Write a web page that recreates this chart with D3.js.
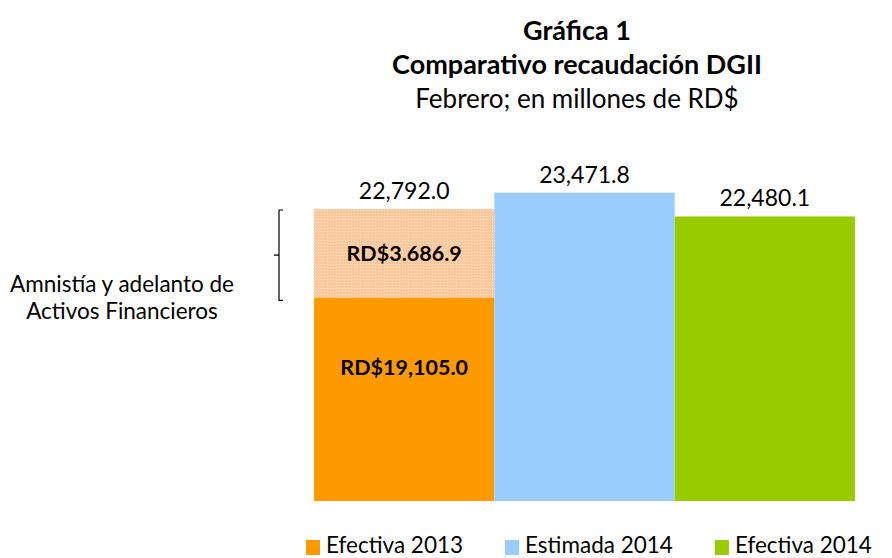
<!DOCTYPE html>
<html>
<head>
<meta charset="utf-8">
<script src="https://cdn.jsdelivr.net/npm/d3@7"></script>
<style>
  html, body { margin: 0; padding: 0; background: #fff; }
  svg { display: block; font-family: Lato, "Open Sans", sans-serif; }
</style>
</head>
<body>
<div id="vis"></div>
<script>
// Chart data
var categories = ['Efectiva 2013', 'Estimada 2014', 'Efectiva 2014'];
var baseValues = [19105.0, 23471.8, 22480.1];   // solid part of each bar
var extraValues = [3686.9, 0, 0];               // hatched part (amnesty)
var totalLabels = ['22,792.0', '23,471.8', '22,480.1'];
var baseLabels = ['RD$19,105.0', null, null];
var extraLabels = ['RD$3.686.9', null, null];
var colors = ['#ff9900', '#99ccff', '#99cc00'];
var titleLines = ['Gráfica 1', 'Comparativo recaudación DGII', 'Febrero; en millones de RD$'];
var noteLines = ['Amnistía y adelanto de', 'Activos Financieros'];

var width = 892;
var height = 558;
var plotBottom = 501;
var plotTop = 168;

var svg = d3.select('#vis').append('svg')
  .attr('width', width)
  .attr('height', height);

// hatched fill for the amnesty segment
var pat = svg.append('defs').append('pattern')
  .attr('id', 'dots')
  .attr('width', 3).attr('height', 3)
  .attr('patternUnits', 'userSpaceOnUse');
pat.append('rect').attr('width', 3).attr('height', 3).attr('fill', '#ffc79a');
pat.append('rect').attr('width', 1).attr('height', 1).attr('fill', '#fff1e4');

var x = d3.scaleBand()
  .domain(categories)
  .range([314, 855])
  .paddingInner(0);

// value axis does not start at zero (axis minimum like the original)
var y = d3.scaleLinear()
  .domain([10620, 24500])
  .range([plotBottom, plotTop]);

var rows = categories.map(function (c, i) {
  return { cat: c, base: baseValues[i], extra: extraValues[i], total: baseValues[i] + extraValues[i], color: colors[i], i: i };
});

// solid bars
svg.selectAll('.bar')
  .data(rows)
  .enter().append('rect')
  .attr('class', 'bar')
  .attr('x', function (d) { return x(d.cat); })
  .attr('width', x.bandwidth())
  .attr('y', function (d) { return y(d.base); })
  .attr('height', function (d) { return y.range()[0] - y(d.base); })
  .attr('fill', function (d) { return d.color; });

// hatched segments
svg.selectAll('.extra')
  .data(rows.filter(function (d) { return d.extra > 0; }))
  .enter().append('rect')
  .attr('class', 'extra')
  .attr('x', function (d) { return x(d.cat); })
  .attr('width', x.bandwidth())
  .attr('y', function (d) { return y(d.total); })
  .attr('height', function (d) { return y(d.base) - y(d.total); })
  .attr('fill', 'url(#dots)');

// total labels
svg.selectAll('.total')
  .data(rows)
  .enter().append('text')
  .attr('class', 'total')
  .attr('x', function (d) { return x(d.cat) + x.bandwidth() / 2; })
  .attr('y', function (d) { return y(d.total) - 10; })
  .attr('text-anchor', 'middle')
  .attr('font-size', 23)
  .attr('fill', '#000')
  .text(function (d) { return totalLabels[d.i]; });

// inner labels
svg.selectAll('.extraLabel')
  .data(rows.filter(function (d) { return extraLabels[d.i]; }))
  .enter().append('text')
  .attr('x', function (d) { return x(d.cat) + x.bandwidth() / 2; })
  .attr('y', function (d) { return (y(d.total) + y(d.base)) / 2 + 8; })
  .attr('text-anchor', 'middle')
  .attr('font-size', 21.5)
  .attr('font-weight', 'bold')
  .text(function (d) { return extraLabels[d.i]; });

svg.selectAll('.baseLabel')
  .data(rows.filter(function (d) { return baseLabels[d.i]; }))
  .enter().append('text')
  .attr('x', function (d) { return x(d.cat) + x.bandwidth() / 2; })
  .attr('y', function (d) { return y(d.base) + (plotBottom - y(d.base)) * 0.34 + 8; })
  .attr('text-anchor', 'middle')
  .attr('font-size', 21.5)
  .attr('font-weight', 'bold')
  .text(function (d) { return baseLabels[d.i]; });

// bracket next to the hatched part
var b = rows[0];
var bx = x(b.cat) - 35;
var yt = y(b.total) + 1, yb = y(b.base) + 3, ym = (yt + yb) / 2;
svg.append('path')
  .attr('d', 'M' + (bx + 4) + ',' + yt + 'H' + bx + 'V' + yb + 'H' + (bx + 4) +
             'M' + bx + ',' + ym + 'H' + (bx - 5))
  .attr('fill', 'none')
  .attr('stroke', '#000')
  .attr('stroke-width', 1.2);

svg.selectAll('.note')
  .data(noteLines)
  .enter().append('text')
  .attr('x', 122)
  .attr('y', function (d, i) { return 292 + i * 27; })
  .attr('text-anchor', 'middle')
  .attr('font-size', 22.5)
  .text(function (d) { return d; });

// titles
svg.selectAll('.title')
  .data(titleLines)
  .enter().append('text')
  .attr('x', 577)
  .attr('y', function (d, i) { return 40 + i * 34; })
  .attr('text-anchor', 'middle')
  .attr('font-size', function (d, i) { return i < 2 ? 27 : 26; })
  .attr('font-weight', function (d, i) { return i < 2 ? 'bold' : 'normal'; })
  .text(function (d) { return d; });

// legend
var legend = svg.append('g');
var lx = 306;
categories.forEach(function (c, i) {
  var g = legend.append('g').attr('transform', 'translate(' + lx + ',0)');
  g.append('rect').attr('x', 0).attr('y', 540).attr('width', 14).attr('height', 15).attr('fill', colors[i]);
  var t = g.append('text').attr('x', 20).attr('y', 553).attr('font-size', 22.5).text(c);
  lx += 20 + t.node().getComputedTextLength() + 42;
});
</script>
</body>
</html>
